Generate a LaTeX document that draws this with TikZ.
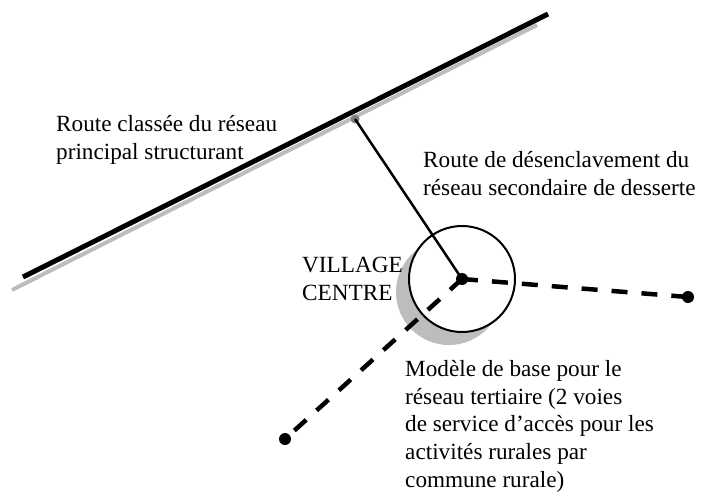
\documentclass[tikz,border=0pt]{standalone}
\usepackage{fontspec}
\setmainfont{Liberation Serif}
\definecolor{shadowgrey}{gray}{0.74}
\tikzstyle{label} = [
 anchor = base west,
 inner sep = 0pt,
 align = left,
 font = \fontsize{23.2}{27.6}\selectfont
]
\tikzstyle{village} = [
 circle,
 minimum size = 106pt,
 inner sep = 0pt
]
\tikzstyle{endDot} = [
 circle,
 fill = black,
 minimum size = 12pt,
 inner sep = 0pt
]
\tikzstyle{track} = [
 line width = 4.5pt,
 dash pattern = on 16pt off 14pt
]

\begin{document}
\begin{tikzpicture}[x=1pt, y=-1pt]
  \useasboundingbox (0,0) rectangle (701,499);

  % main road with its grey shadow
  \coordinate (roadW) at (23,277);
  \coordinate (roadE) at (548,14);
  \coordinate (shadowW) at (12,290);
  \coordinate (shadowE) at (537,25);
  \draw [shadowgrey, line width = 4pt] (shadowW) -- (shadowE);
  \draw [black, line width = 5pt] (roadW) -- (roadE);

  % village
  \node [village, fill = shadowgrey] (villageShadow) at (449,292) {};
  \node [village, draw, line width = 2pt, fill = white] (villageRing) at (462,279) {};

  \node [circle, fill = gray, minimum size = 9pt, inner sep = 0pt] (junction) at (355,119) {};
  \node [endDot] (centre) at (462,279) {};
  \node [endDot] (east) at (688,297) {};
  \node [endDot] (southWest) at (285,439) {};

  \draw [line width = 2.5pt] (junction.center) -- (centre.center);
  \draw [track] (centre.center) -- (east.center);
  \draw [track] (centre.center) -- (southWest.center);

  % texts (base = last line)
  \node [label] (mainRoad) at (56,159)
    {Route classée du réseau\\principal structurant};
  \node [label] (linkRoad) at (423,195)
    {Route de désenclavement du\\réseau secondaire de desserte};
  \node [label] (villageName) at (302,300)
    {VILLAGE\\CENTRE};
  \node [label] (baseModel) at (405,487)
    {Modèle de base pour le\\réseau tertiaire (2 voies\\de service d’accès pour les\\activités rurales par\\commune rurale)};
\end{tikzpicture}
\end{document}
